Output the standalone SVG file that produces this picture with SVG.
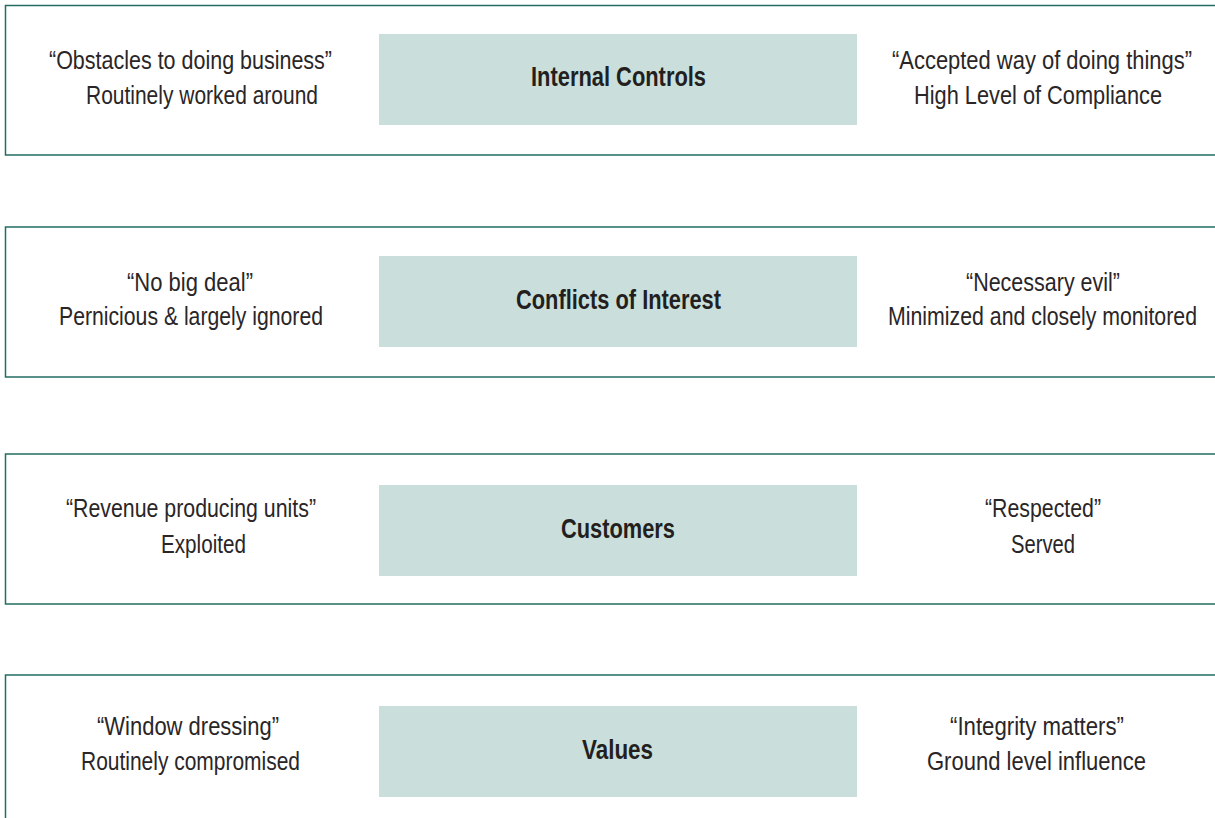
<svg xmlns="http://www.w3.org/2000/svg" width="1215" height="818" viewBox="0 0 1215 818">
<style>
.band{fill:#ffffff;stroke:#226d60;stroke-width:1.5}
.core{fill:#cadfdb}
text{text-anchor:middle}
.t{font-family:"Liberation Sans Narrow","Liberation Sans",Arial,sans-serif;font-size:26.5px;fill:#2a2627}
.b{font-family:"Liberation Sans Narrow","Liberation Sans",Arial,sans-serif;font-size:27px;font-weight:bold;fill:#231f20}
</style>
<rect width="1215" height="818" fill="#ffffff"/>
<g id="row-internal-controls">
<rect class="band" x="5.5" y="5.5" width="1210.5" height="149.5"/>
<rect class="core" x="379" y="34" width="478" height="91"/>
<text class="t" x="190.5" y="69" textLength="283" lengthAdjust="spacingAndGlyphs">“Obstacles to doing business”</text>
<text class="t" x="202" y="103.5" textLength="232" lengthAdjust="spacingAndGlyphs">Routinely worked around</text>
<text class="b" x="618.5" y="85.5" textLength="175" lengthAdjust="spacingAndGlyphs">Internal Controls</text>
<text class="t" x="1042" y="69" textLength="300" lengthAdjust="spacingAndGlyphs">“Accepted way of doing things”</text>
<text class="t" x="1038" y="103.5" textLength="248" lengthAdjust="spacingAndGlyphs">High Level of Compliance</text>
</g>
<g id="row-conflicts-of-interest">
<rect class="band" x="5.5" y="227" width="1210.5" height="150"/>
<rect class="core" x="379" y="256" width="478" height="91"/>
<text class="t" x="190" y="290.5" textLength="126" lengthAdjust="spacingAndGlyphs">“No big deal”</text>
<text class="t" x="191" y="324.5" textLength="264" lengthAdjust="spacingAndGlyphs">Pernicious &amp; largely ignored</text>
<text class="b" x="618.5" y="308.5" textLength="205" lengthAdjust="spacingAndGlyphs">Conflicts of Interest</text>
<text class="t" x="1043" y="290.5" textLength="154" lengthAdjust="spacingAndGlyphs">“Necessary evil”</text>
<text class="t" x="1042.5" y="324.5" textLength="309" lengthAdjust="spacingAndGlyphs">Minimized and closely monitored</text>
</g>
<g id="row-customers">
<rect class="band" x="5.5" y="454" width="1210.5" height="150"/>
<rect class="core" x="379" y="485" width="478" height="91"/>
<text class="t" x="191" y="517" textLength="250" lengthAdjust="spacingAndGlyphs">“Revenue producing units”</text>
<text class="t" x="203.5" y="553" textLength="85" lengthAdjust="spacingAndGlyphs">Exploited</text>
<text class="b" x="618" y="537.5" textLength="114" lengthAdjust="spacingAndGlyphs">Customers</text>
<text class="t" x="1043" y="517" textLength="116" lengthAdjust="spacingAndGlyphs">“Respected”</text>
<text class="t" x="1043" y="553" textLength="64" lengthAdjust="spacingAndGlyphs">Served</text>
</g>
<g id="row-values">
<rect class="band" x="5.5" y="675" width="1210.5" height="144"/>
<rect class="core" x="379" y="706" width="478" height="91"/>
<text class="t" x="188" y="734.5" textLength="182" lengthAdjust="spacingAndGlyphs">“Window dressing”</text>
<text class="t" x="190.5" y="769.5" textLength="219" lengthAdjust="spacingAndGlyphs">Routinely compromised</text>
<text class="b" x="617.5" y="758.5" textLength="71" lengthAdjust="spacingAndGlyphs">Values</text>
<text class="t" x="1037" y="734.5" textLength="174" lengthAdjust="spacingAndGlyphs">“Integrity matters”</text>
<text class="t" x="1036.5" y="769.5" textLength="219" lengthAdjust="spacingAndGlyphs">Ground level influence</text>
</g>
</svg>
